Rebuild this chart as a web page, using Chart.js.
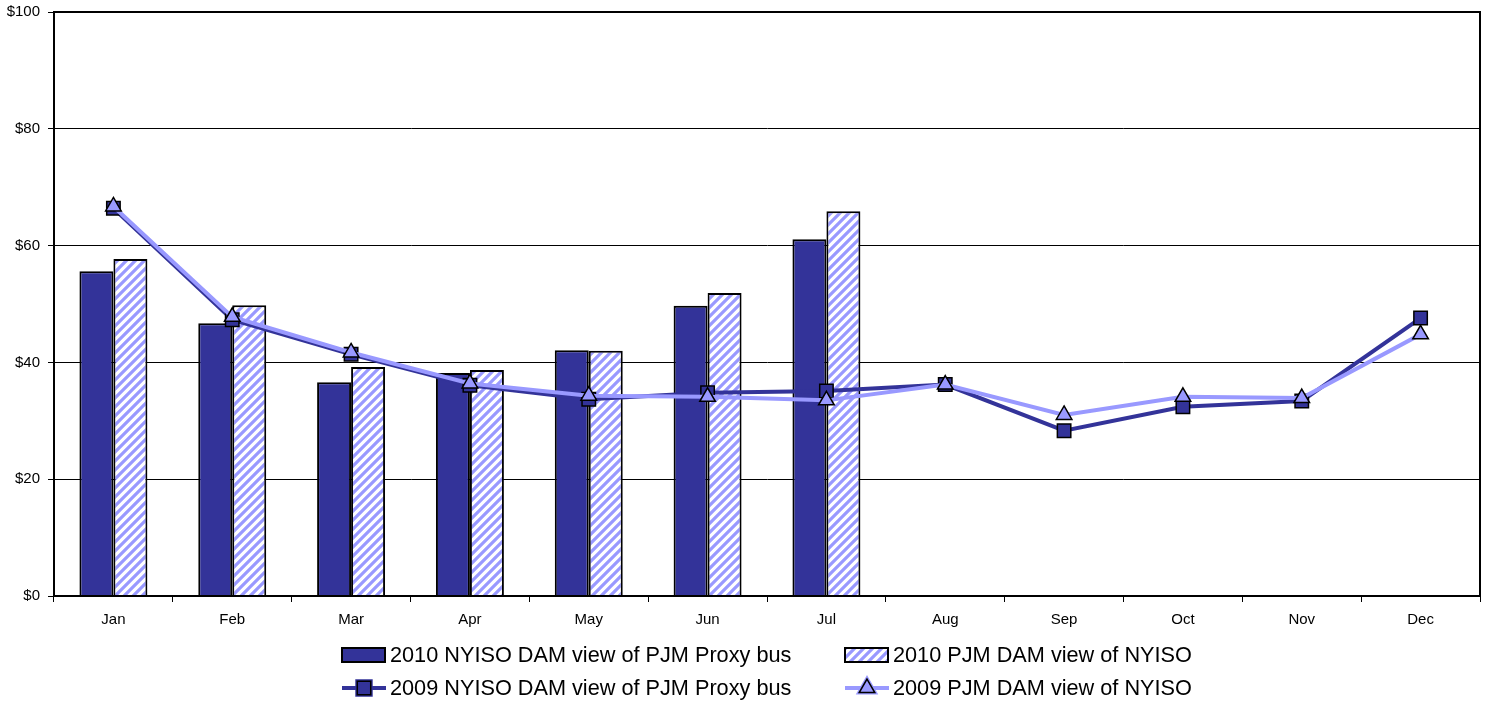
<!DOCTYPE html>
<html lang="en">
<head>
    <meta charset="UTF-8">
    <script src="https://cdn.jsdelivr.net/npm/chart.js@4.4.0/dist/chart.umd.min.js"></script>
    <title>NYISO / PJM DAM</title>
    <style>
        body { margin: 0; background: #fff; }
        #wrap { width: 1491px; height: 704px; }
    </style>
</head>
<body>
<div id="wrap"><canvas id="chart" width="1491" height="704"></canvas></div>

<script>
    const months = ['Jan', 'Feb', 'Mar', 'Apr', 'May', 'Jun', 'Jul', 'Aug', 'Sep', 'Oct', 'Nov', 'Dec'];
    const nyiso2010 = [55.6, 46.7, 36.6, 38.2, 42.1, 49.7, 61.1, null, null, null, null, null];
    const pjm2010 = [57.7, 49.8, 39.2, 38.7, 42.0, 51.9, 65.9, null, null, null, null, null];
    const nyiso2009 = [66.4, 47.3, 41.4, 36.1, 33.7, 34.8, 35.1, 36.2, 28.3, 32.4, 33.4, 47.6];
    const pjm2009 = [66.7, 47.8, 41.7, 36.4, 34.3, 34.1, 33.5, 36.2, 31.0, 34.1, 33.9, 44.8];
    const yTicks = [0, 20, 40, 60, 80, 100];

    const DARK = '#333399';
    const LIGHT = '#9999ff';
    const FONT = 'Arial, "Liberation Sans", sans-serif';

    function hatch() {
        const c = document.createElement('canvas');
        c.width = 9; c.height = 9;
        const g = c.getContext('2d');
        g.fillStyle = '#fff';
        g.fillRect(0, 0, 9, 9);
        g.strokeStyle = LIGHT;
        g.lineWidth = 3.2;
        g.beginPath();
        g.moveTo(-2, 11); g.lineTo(11, -2);
        g.moveTo(-7, 7); g.lineTo(7, -7);
        g.moveTo(2, 16); g.lineTo(16, 2);
        g.stroke();
        return g.createPattern(c, 'repeat');
    }
    const stripes = hatch();

    // box around the plot + legend at the bottom
    const frameAndLegend = {
        id: 'frameAndLegend',
        afterDraw(chart) {
            const ctx = chart.ctx;
            const a = chart.chartArea;
            ctx.save();
            ctx.strokeStyle = '#000';
            ctx.lineWidth = 2;
            ctx.strokeRect(a.left, a.top, a.right - a.left, a.bottom - a.top);

            const ds = chart.data.datasets;
            const items = [
                { d: ds[0], x: 342, y: 655, kind: 'bar' },
                { d: ds[1], x: 845, y: 655, kind: 'bar' },
                { d: ds[2], x: 342, y: 688, kind: 'line' },
                { d: ds[3], x: 845, y: 688, kind: 'line' }
            ];
            items.forEach(it => {
                if (it.kind === 'bar') {
                    ctx.fillStyle = it.d.backgroundColor;
                    ctx.fillRect(it.x, it.y - 7, 43, 14);
                    ctx.lineWidth = 2;
                    ctx.strokeStyle = '#000';
                    ctx.strokeRect(it.x, it.y - 7, 43, 14);
                } else {
                    ctx.strokeStyle = it.d.borderColor;
                    ctx.lineWidth = 4;
                    ctx.beginPath();
                    ctx.moveTo(it.x, it.y); ctx.lineTo(it.x + 44, it.y);
                    ctx.stroke();
                    Chart.helpers.drawPoint(ctx, {
                        pointStyle: it.d.pointStyle,
                        radius: it.d.pointRadius,
                        borderWidth: 1.5
                    }, it.x + 22, it.y);
                    ctx.fillStyle = it.d.pointBackgroundColor;
                    ctx.strokeStyle = '#000';
                    ctx.lineWidth = 1.5;
                    ctx.fill();
                    ctx.stroke();
                }
                ctx.fillStyle = '#000';
                ctx.font = '21.7px ' + FONT;
                ctx.textBaseline = 'middle';
                ctx.textAlign = 'left';
                ctx.fillText(it.d.label, it.x + 48, it.y + 1);
            });
            ctx.restore();
        }
    };

    const ctx = document.getElementById('chart').getContext('2d');
    const myChart = new Chart(ctx, {
        type: 'bar',
        data: {
            labels: months,
            datasets: [
                {
                    label: '2010 NYISO DAM view of PJM Proxy bus',
                    data: nyiso2010,
                    backgroundColor: DARK,
                    borderColor: '#000',
                    borderWidth: 2,
                    categoryPercentage: 0.572,
                    barPercentage: 1,
                    order: 3
                },
                {
                    label: '2010 PJM DAM view of NYISO',
                    data: pjm2010,
                    backgroundColor: stripes,
                    borderColor: '#000',
                    borderWidth: 2,
                    categoryPercentage: 0.572,
                    barPercentage: 1,
                    order: 3
                },
                {
                    type: 'line',
                    label: '2009 NYISO DAM view of PJM Proxy bus',
                    data: nyiso2009,
                    borderColor: DARK,
                    borderWidth: 4,
                    pointStyle: 'rect',
                    pointRadius: 9.5,
                    pointBackgroundColor: DARK,
                    pointBorderColor: '#000',
                    pointBorderWidth: 1.5,
                    tension: 0,
                    order: 2
                },
                {
                    type: 'line',
                    label: '2009 PJM DAM view of NYISO',
                    data: pjm2009,
                    borderColor: LIGHT,
                    borderWidth: 4,
                    pointStyle: 'triangle',
                    pointRadius: 9,
                    pointBackgroundColor: LIGHT,
                    pointBorderColor: '#000',
                    pointBorderWidth: 1.5,
                    tension: 0,
                    order: 1
                }
            ]
        },
        options: {
            responsive: false,
            animation: false,
            layout: { padding: { top: 12, right: 10, bottom: 74, left: 0 } },
            plugins: {
                legend: { display: false },
                tooltip: { enabled: false }
            },
            scales: {
                x: {
                    offset: true,
                    grid: {
                        offset: true,
                        drawOnChartArea: false,
                        color: '#000',
                        tickLength: 6,
                        lineWidth: 1
                    },
                    border: { color: '#000', width: 2 },
                    ticks: {
                        color: '#000',
                        padding: 9,
                        font: { family: FONT, size: 15 },
                        maxRotation: 0
                    },
                    afterFit(s) {
                        s.height = 34;
                        s.paddingLeft = 0;
                        s.paddingRight = 0;
                    }
                },
                y: {
                    min: 0,
                    max: 100,
                    afterBuildTicks(s) { s.ticks = yTicks.map(v => ({ value: v })); },
                    grid: {
                        color: '#000',
                        lineWidth: 1,
                        tickLength: 6
                    },
                    border: { color: '#000', width: 2 },
                    ticks: {
                        color: '#000',
                        padding: 8,
                        font: { family: FONT, size: 15 },
                        callback: v => '$' + v
                    },
                    afterFit(s) {
                        s.width = 54;
                        s.paddingTop = 0;
                        s.paddingBottom = 0;
                    }
                }
            }
        },
        plugins: [frameAndLegend]
    });
</script>
</body>
</html>
